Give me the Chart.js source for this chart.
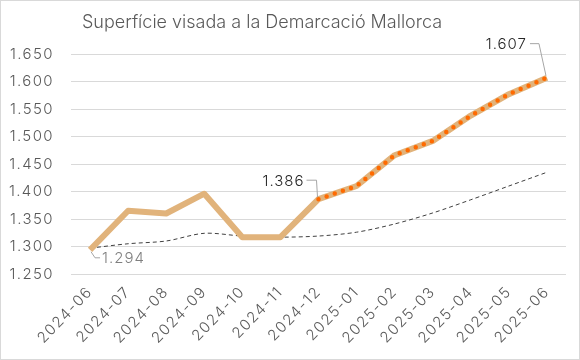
<!DOCTYPE html>
<html>
<head>
<meta charset="utf-8">
<script src="https://cdn.jsdelivr.net/npm/chart.js@4"></script>
<style>
html,body{margin:0;padding:0;background:#fff;}
#wrap{position:relative;width:578px;height:358px;border:1px solid #d9d9d9;}
canvas{display:block;}
</style>
</head>
<body>
<div id="wrap"><canvas id="c" width="578" height="358"></canvas></div>
<script>
const chartTitle = "Superfície visada a la Demarcació Mallorca";
const months = ["2024-06","2024-07","2024-08","2024-09","2024-10","2024-11","2024-12","2025-01","2025-02","2025-03","2025-04","2025-05","2025-06"];
const superficie = [1294,1365,1360,1396,1317,1317,1386,1410,1466,1492,1538,1577,1607];
const tendencia  = [1297,1305,1310,1324,1319,1317,1319,1326,1341,1361,1385,1410,1435];
const destacat   = [null,null,null,null,null,null,1386,1410,1466,1492,1538,1577,1607];
const yTicks = [1250,1300,1350,1400,1450,1500,1550,1600,1650];
const labelIdx = [0,6,12];

const FONT = "Inter, 'Liberation Sans', sans-serif";
function fmt(v){ return String(v).replace(/\B(?=(\d{3})+(?!\d))/g, "."); }

const labelStyle = [
  {dx:5, dy:8, hx:10, tx:12, ty:9, color:'#7f7f7f', align:'left'},
  {dx:-2, dy:-19, hx:-12, tx:-14, ty:-18, color:'#262626', align:'right'},
  {dx:-8, dy:-34, hx:-17, tx:-20, ty:-33, color:'#262626', align:'right'}
];

const spacing = {
  id:'spacing',
  beforeUpdate(chart){ chart.ctx.letterSpacing = '1.4px'; },
  beforeLayout(chart){ chart.ctx.letterSpacing = '1.4px'; },
  beforeDraw(chart){ chart.ctx.letterSpacing = '1.4px'; }
};

const overlay = {
  id:'overlay',
  afterDraw(chart){
    const ctx = chart.ctx, x = chart.scales.x, y = chart.scales.y;
    ctx.save();
    ctx.letterSpacing = '0px';
    ctx.font = "300 18px " + FONT;
    ctx.fillStyle = "#595959";
    ctx.textAlign = "center"; ctx.textBaseline = "middle";
    ctx.fillText(chartTitle, 261, 22);
    ctx.letterSpacing = '1px';
    ctx.font = "300 15px " + FONT;
    ctx.strokeStyle = "#a6a6a6"; ctx.lineWidth = 1;
    labelIdx.forEach((i,k)=>{
      const st = labelStyle[k];
      const px = x.getPixelForValue(i), py = y.getPixelForValue(superficie[i]);
      ctx.beginPath();
      ctx.moveTo(px + Math.sign(st.dx), py + Math.sign(st.dy)*2);
      ctx.lineTo(px+st.dx, py+st.dy);
      ctx.lineTo(px+st.hx, py+st.dy);
      ctx.stroke();
      ctx.fillStyle = st.color; ctx.textAlign = st.align;
      ctx.fillText(fmt(superficie[i]), px+st.tx, py+st.ty);
    });
    ctx.restore();
  }
};

new Chart(document.getElementById('c'), {
  type:'line',
  data:{
    labels: months,
    datasets:[
      {data: destacat, borderColor:'#ff6a00', borderWidth:4.5, borderDash:[0,8.6], borderCapStyle:'round', pointRadius:0, tension:0, spanGaps:false},
      {data: superficie, borderColor:'#e1b37b', borderWidth:6, borderJoinStyle:'round', pointRadius:0, tension:0},
      {data: tendencia, borderColor:'#404040', borderWidth:1, borderDash:[4,3], pointRadius:0, tension:0.3}
    ]
  },
  options:{
    responsive:false, animation:false,
    layout:{padding:{left:0,right:13,top:53,bottom:0}},
    plugins:{legend:{display:false}, title:{display:false}, tooltip:{enabled:false}},
    scales:{
      x:{
        offset:true,
        grid:{display:false, drawTicks:false},
        border:{display:false},
        ticks:{color:'#595959', font:{family:FONT, size:15, weight:300}, maxRotation:46, minRotation:46, padding:9, autoSkip:false},
        afterFit(s){ s.height = 85; }
      },
      y:{
        min:1250, max:1650,
        afterBuildTicks(s){ s.ticks = yTicks.map(v=>({value:v})); },
        grid:{color:'#d9d9d9', drawTicks:false, lineWidth:1},
        border:{display:false},
        ticks:{color:'#595959', font:{family:FONT, size:15, weight:300}, padding:17, callback:v=>fmt(v)},
        afterFit(s){ s.width = 70; }
      }
    }
  },
  plugins:[spacing, overlay]
});
</script>
</body>
</html>
